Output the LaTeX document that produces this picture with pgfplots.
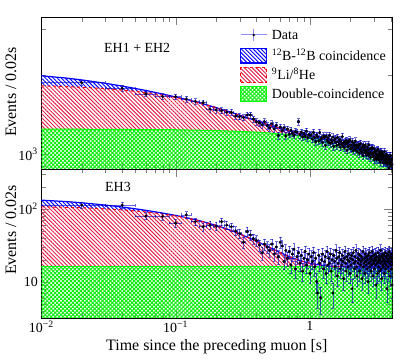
\documentclass[border=0pt]{standalone}
\usepackage{fontspec}
\setmainfont{Liberation Serif}
\usepackage{pgfplots}
\usepackage{pgfplotstable}
\pgfplotsset{compat=1.18}
\usetikzlibrary{patterns,patterns.meta}
\definecolor{hatchred}{RGB}{225,30,70}
\definecolor{hatchgreen}{RGB}{20,235,20}

\pgfplotstableread{
t N
0.02 1875
0.04 1786
0.06 1700
0.08 1662
0.10 1659
0.12 1625
0.14 1593
0.16 1574
0.18 1488
0.20 1478
0.22 1467
0.24 1449
0.26 1446
0.28 1400
0.30 1395
0.32 1380
0.34 1412
0.36 1414
0.38 1364
0.40 1330
0.42 1318
0.44 1296
0.46 1331
0.48 1286
0.50 1262
0.52 1308
0.54 1251
0.56 1290
0.58 1180
0.60 1270
0.62 1229
0.64 1263
0.66 1175
0.68 1248
0.70 1193
0.72 1236
0.74 1204
0.76 1181
0.78 1222
0.80 1215
0.82 1332
0.84 1187
0.86 1214
0.88 1166
0.90 1201
0.92 1173
0.94 1225
0.96 1158
0.98 1190
1.00 1182
1.02 1186
1.04 1143
1.06 1210
1.08 1161
1.10 1117
1.12 1184
1.14 1167
1.16 1124
1.18 1211
1.20 1139
1.22 1154
1.24 1110
1.26 1174
1.28 1160
1.30 1082
1.32 1175
1.34 1130
1.36 1156
1.38 1112
1.40 1182
1.42 1101
1.44 1136
1.46 1110
1.48 1164
1.50 1073
1.52 1134
1.54 1146
1.56 1113
1.58 1082
1.60 1160
1.62 1117
1.64 1092
1.66 1141
1.68 1065
1.70 1125
1.72 1094
1.74 1168
1.76 1076
1.78 1110
1.80 1060
1.82 1119
1.84 1093
1.86 1130
1.88 1037
1.90 1106
1.92 1071
1.94 1116
1.96 1079
1.98 1135
2.00 1051
2.02 1086
2.04 1055
2.06 1118
2.08 1063
2.10 1032
2.12 1099
2.14 1080
2.16 1041
2.18 1123
2.20 1057
2.22 1085
2.24 1027
2.26 1077
2.28 1060
2.30 1092
2.32 1010
2.34 1084
2.36 1039
2.38 1097
2.40 1030
2.42 1057
2.44 1015
2.46 1069
2.48 989
2.50 1084
2.52 1038
2.54 1059
2.56 1012
2.58 1085
2.60 1025
2.62 1038
2.64 994
2.66 1067
2.68 1012
2.70 1041
2.72 992
2.74 1087
2.76 1001
2.78 1048
2.80 1020
2.82 974
2.84 1057
2.86 1003
2.88 1047
2.90 1006
2.92 1061
2.94 979
2.96 1015
2.98 988
3.00 1049
3.02 954
3.04 1025
3.06 1013
3.08 972
3.10 1029
3.12 999
3.14 956
3.16 1030
3.18 982
3.20 1044
3.22 965
3.24 1004
3.26 952
3.28 1014
3.30 980
3.32 1023
3.34 934
3.36 998
3.38 988
3.40 957
3.42 1022
3.44 960
3.46 1006
3.48 966
3.50 928
3.52 993
3.54 982
3.56 938
3.58 1023
3.60 947
3.62 967
3.64 928
3.66 991
3.68 948
3.70 1001
3.72 932
3.74 964
3.76 914
3.78 988
3.80 948
3.82 970
3.84 920
3.86 973
3.88 888
3.90 985
3.92 930
3.94 957
3.96 916
3.98 988
4.00 929
4.02 947
4.04 902
4.06 958
4.08 917
}\topdata

\pgfplotstableread{
t N
0.02 113
0.04 113
0.06 80
0.08 79
0.10 64
0.12 83
0.14 67
0.16 57
0.18 60
0.20 58
0.22 67
0.24 60
0.26 57
0.28 50
0.30 46
0.32 35
0.34 49
0.36 44
0.38 39
0.40 37
0.42 32
0.44 25
0.46 33
0.48 30
0.50 27
0.52 33
0.54 24
0.56 30
0.58 22
0.60 35
0.62 31
0.64 19
0.66 27
0.68 21
0.70 26
0.72 17
0.74 24
0.76 28
0.78 15
0.80 22
0.82 25
0.84 18
0.86 23
0.88 14
0.90 21
0.92 26
0.94 17
0.96 20
0.98 24
1.00 13
1.02 22
1.04 19
1.06 25
1.08 16
1.10 21
1.12 10
1.14 7
1.16 23
1.18 18
1.20 6
1.22 20
1.24 24
1.26 15
1.28 19
1.30 22
1.32 13
1.34 26
1.36 17
1.38 21
1.40 18
1.42 24
1.44 14
1.46 20
1.48 7
1.50 23
1.52 19
1.54 16
1.56 27
1.58 21
1.60 12
1.62 18
1.64 22
1.66 25
1.68 15
1.70 20
1.72 17
1.74 23
1.76 19
1.78 11
1.80 21
1.82 26
1.84 18
1.86 14
1.88 22
1.90 20
1.92 16
1.94 24
1.96 19
1.98 13
2.00 21
2.02 17
2.04 23
2.06 8
2.08 20
2.10 25
2.12 18
2.14 15
2.16 22
2.18 19
2.20 27
2.22 16
2.24 12
2.26 21
2.28 18
2.30 24
2.32 20
2.34 14
2.36 23
2.38 17
2.40 19
2.42 22
2.44 11
2.46 20
2.48 26
2.50 16
2.52 18
2.54 21
2.56 13
2.58 24
2.60 19
2.62 17
2.64 22
2.66 15
2.68 20
2.70 10
2.72 23
2.74 18
2.76 25
2.78 16
2.80 21
2.82 19
2.84 14
2.86 22
2.88 17
2.90 26
2.92 20
2.94 12
2.96 18
2.98 23
3.00 19
3.02 15
3.04 21
3.06 24
3.08 17
3.10 9
3.12 20
3.14 22
3.16 18
3.18 13
3.20 25
3.22 19
3.24 16
3.26 21
3.28 23
3.30 14
3.32 20
3.34 18
3.36 27
3.38 15
3.40 22
3.42 11
3.44 19
3.46 24
3.48 17
3.50 21
3.52 16
3.54 20
3.56 23
3.58 13
3.60 18
3.62 25
3.64 19
3.66 15
3.68 22
3.70 17
3.72 21
3.74 8
3.76 24
3.78 19
3.80 16
3.82 23
3.84 20
3.86 14
3.88 26
3.90 18
3.92 21
3.94 12
3.96 22
3.98 17
4.00 24
4.02 19
4.04 15
4.06 21
4.08 9
}\botdata

\tikzset{
  bluehatch/.style={pattern={Lines[angle=-45,distance=2.8pt,line width=0.95pt]}, pattern color=blue},
  redhatch/.style={pattern={Lines[angle=-45,distance=2.8pt,line width=0.95pt]}, pattern color=hatchred},
  greenhatch/.style={pattern={Hatch[angle=45,distance=2.8pt,line width=1.05pt]}, pattern color=hatchgreen},
}

\begin{document}
\begin{tikzpicture}
% ---------------- top panel -----------------
\begin{axis}[scale only axis, width=351bp, height=151.7bp,
  at={(41.3bp,191bp)}, anchor=south west,
  xmode=log, ymode=log, xmin=0.01, xmax=4.1, ymin=879, ymax=3334,
  xtick={0.01,0.1,1},
  minor xtick={0.02,0.03,0.04,0.05,0.06,0.07,0.08,0.09,0.2,0.3,0.4,0.5,0.6,0.7,0.8,0.9,2,3,4},
  xticklabels={},
  ytick={1000}, yticklabels={10\textsuperscript{3}},
  minor ytick={900,2000,3000},
  tick align=inside, xtick pos=both, ytick pos=both,
  major tick length=8bp, minor tick length=4.5bp,
  tick label style={font=\fontsize{14}{16}\selectfont},
  ylabel={Events / 0.02s},
  ylabel style={at={(axis description cs:-0.0863,0.508)}, anchor=center, font=\fontsize{16}{18}\selectfont},
]
\addplot[draw=none, greenhatch, forget plot] coordinates {
(0.01,1249) (0.1,1241) (0.2,1232) (0.3,1223) (0.4,1215) (0.5,1206) (0.6,1197) (0.7,1189) (0.8,1181) (0.9,1172) (1.0,1164) (1.2,1147) (1.4,1131) (1.6,1115) (1.8,1099) (2.0,1084) (2.5,1045) (3.0,1009) (3.5,973) (4.1,933)
(4.1,850) (0.01,850) (0.01,1249)};
\addplot[draw=none, redhatch, forget plot] coordinates {
(0.01,1826) (0.015,1815) (0.02,1803) (0.03,1781) (0.04,1760) (0.05,1740) (0.06,1721) (0.08,1683) (0.1,1648) (0.12,1616) (0.15,1572) (0.2,1508) (0.25,1455) (0.3,1410) (0.35,1373) (0.4,1342) (0.5,1292) (0.6,1255) (0.7,1228) (0.8,1208) (0.9,1190) (1.0,1176) (1.2,1153) (1.4,1134) (1.6,1116) (2.0,1084) (2.5,1045) (3.0,1009) (3.5,973) (4.1,933)
(3.5,973) (3.0,1009) (2.5,1045) (2.0,1084) (1.8,1099) (1.6,1115) (1.4,1131) (1.2,1147) (1.0,1164) (0.9,1172) (0.8,1181) (0.7,1189) (0.6,1197) (0.5,1206) (0.4,1215) (0.3,1223) (0.2,1232) (0.1,1241) (0.01,1249) (0.01,1826)};
\addplot[draw=none, bluehatch, forget plot] coordinates {
(0.01,1994) (0.015,1957) (0.02,1923) (0.03,1867) (0.04,1822) (0.05,1784) (0.06,1753) (0.08,1699) (0.1,1656) (0.12,1620) (0.15,1574) (0.2,1508)
(0.15,1572) (0.12,1616) (0.1,1648) (0.08,1683) (0.06,1721) (0.05,1740) (0.04,1760) (0.03,1781) (0.02,1803) (0.015,1815) (0.01,1826) (0.01,1994)};
\addplot[green, line width=1pt, forget plot] coordinates {
(0.01,1249) (0.1,1241) (0.2,1232) (0.3,1223) (0.4,1215) (0.5,1206) (0.6,1197) (0.7,1189) (0.8,1181) (0.9,1172) (1.0,1164) (1.2,1147) (1.4,1131) (1.6,1115) (1.8,1099) (2.0,1084) (2.5,1045) (3.0,1009) (3.5,973) (4.1,933)};
\addplot[blue, line width=1.2pt, forget plot] coordinates {
(0.01,1994) (0.015,1957) (0.02,1923) (0.03,1867) (0.04,1822) (0.05,1784) (0.06,1753) (0.08,1699) (0.1,1656) (0.12,1620) (0.15,1574) (0.2,1508) (0.25,1455) (0.3,1410) (0.35,1373) (0.4,1342) (0.5,1292) (0.6,1255) (0.7,1228) (0.8,1208) (0.9,1190) (1.0,1176) (1.2,1153) (1.4,1134) (1.6,1116) (2.0,1084) (2.5,1045) (3.0,1009) (3.5,973) (4.1,933)};
\addplot[red, dashed, line width=1pt, forget plot] coordinates {
(0.01,1826) (0.015,1815) (0.02,1803) (0.03,1781) (0.04,1760) (0.05,1740) (0.06,1721) (0.08,1683) (0.1,1648) (0.12,1616) (0.15,1572) (0.2,1508) (0.25,1455) (0.3,1410) (0.35,1373) (0.4,1342) (0.5,1292) (0.6,1255) (0.7,1228) (0.8,1208) (0.9,1190) (1.0,1176) (1.2,1153) (1.4,1134) (1.6,1116) (2.0,1084) (2.5,1045) (3.0,1009) (3.5,973) (4.1,933)};
\addplot[only marks, mark=*, mark size=1.3pt, mark options={fill=black, draw=black}, forget plot,
  error bars/.cd, y dir=both, y explicit, x dir=both, x fixed=0.01,
  error bar style={blue!75!black, opacity=0.6, line width=0.6pt},
  error mark options={rotate=90, blue!75!black, opacity=0.6, mark size=1.4pt, line width=0.6pt}]
  table[x=t, y=N, y error expr=sqrt(\thisrow{N})] {\topdata};
\end{axis}

% ---------------- bottom panel -----------------
\begin{axis}[scale only axis, width=351bp, height=148.7bp,
  at={(41.3bp,42.3bp)}, anchor=south west,
  xmode=log, ymode=log, xmin=0.01, xmax=4.1, ymin=3.2, ymax=355,
  xtick={0.01,0.1,1},
  minor xtick={0.02,0.03,0.04,0.05,0.06,0.07,0.08,0.09,0.2,0.3,0.4,0.5,0.6,0.7,0.8,0.9,2,3,4},
  xticklabels={10\textsuperscript{−2},10\textsuperscript{−1},1},
  ytick={10,100}, yticklabels={10,10\textsuperscript{2}},
  minor ytick={4,5,6,7,8,9,20,30,40,50,60,70,80,90,200,300},
  tick align=inside, xtick pos=both, ytick pos=both,
  major tick length=8bp, minor tick length=4.5bp,
  tick label style={font=\fontsize{14}{16}\selectfont},
  xlabel={Time since the preceding muon [s]},
  xlabel style={at={(axis description cs:0.5,-0.195)}, anchor=center, font=\fontsize{16}{18}\selectfont},
  ylabel={Events / 0.02s},
  ylabel style={at={(axis description cs:-0.0863,0.59)}, anchor=center, font=\fontsize{16}{18}\selectfont},
]
\addplot[draw=none, greenhatch, forget plot] coordinates {
(0.01,16) (4.1,16) (4.1,3) (0.01,3) (0.01,16)};
\addplot[draw=none, redhatch, forget plot] coordinates {
(0.01,107.4) (0.015,105.6) (0.02,103.9) (0.03,100.5) (0.04,97.3) (0.05,94.2) (0.06,91.2) (0.08,85.6) (0.1,80.4) (0.12,75.6) (0.15,69.0) (0.2,59.6) (0.25,51.9) (0.3,45.5) (0.35,40.3) (0.4,36.0) (0.5,29.6) (0.6,25.2) (0.7,22.2) (0.8,20.2) (0.9,18.9) (1.0,17.9) (1.2,16.9) (1.4,16.4) (1.6,16.2) (2.0,16.0) (4.1,16.0)
(0.01,16) (0.01,107.4)};
\addplot[draw=none, bluehatch, forget plot] coordinates {
(0.01,132.4) (0.015,126.8) (0.02,121.8) (0.03,113.3) (0.04,106.5) (0.05,100.8) (0.06,95.9) (0.08,88.0) (0.1,81.6) (0.12,76.2) (0.15,69.2) (0.2,59.6)
(0.15,69.0) (0.12,75.6) (0.1,80.4) (0.08,85.6) (0.06,91.2) (0.05,94.2) (0.04,97.3) (0.03,100.5) (0.02,103.9) (0.015,105.6) (0.01,107.4) (0.01,132.4)};
\addplot[green, line width=1pt, forget plot] coordinates {(0.01,16) (4.1,16)};
\addplot[blue, line width=1.2pt, forget plot] coordinates {
(0.01,132.4) (0.015,126.8) (0.02,121.8) (0.03,113.3) (0.04,106.5) (0.05,100.8) (0.06,95.9) (0.08,88.0) (0.1,81.6) (0.12,76.2) (0.15,69.2) (0.2,59.6) (0.25,51.9) (0.3,45.5) (0.35,40.3) (0.4,36.0) (0.5,29.6) (0.6,25.2) (0.7,22.2) (0.8,20.2) (0.9,18.9) (1.0,17.9) (1.2,16.9) (1.4,16.4) (1.6,16.2) (2.0,16.0) (4.1,16.0)};
\addplot[red, dashed, line width=1pt, forget plot] coordinates {
(0.01,107.4) (0.015,105.6) (0.02,103.9) (0.03,100.5) (0.04,97.3) (0.05,94.2) (0.06,91.2) (0.08,85.6) (0.1,80.4) (0.12,75.6) (0.15,69.0) (0.2,59.6) (0.25,51.9) (0.3,45.5) (0.35,40.3) (0.4,36.0) (0.5,29.6) (0.6,25.2) (0.7,22.2) (0.8,20.2) (0.9,18.9) (1.0,17.9) (1.2,16.9) (1.4,16.4) (1.6,16.2) (2.0,16.0) (4.1,16.0)};
\addplot[only marks, mark=*, mark size=1.3pt, mark options={fill=black, draw=black}, forget plot,
  error bars/.cd, y dir=both, y explicit, x dir=both, x fixed=0.01,
  error bar style={blue!75!black, opacity=0.6, line width=0.6pt},
  error mark options={rotate=90, blue!75!black, opacity=0.6, mark size=1.4pt, line width=0.6pt}]
  table[x=t, y=N, y error expr=sqrt(\thisrow{N})] {\botdata};
\end{axis}

% ---------------- panel texts and legend -----------------
\node[anchor=west, inner sep=0pt, font=\fontsize{14}{16}\selectfont] at (104bp,312.5bp) {EH1 + EH2};
\node[anchor=west, inner sep=0pt, font=\fontsize{14}{16}\selectfont] at (105bp,173bp) {EH3};

\draw[blue!45, line width=1pt] (240.7bp,325bp) -- (266.7bp,325bp);
\draw[blue!45, line width=1pt] (253.7bp,319bp) -- (253.7bp,331bp);
\fill[black] (253.7bp,325bp) circle (1.4bp);
\fill[bluehatch] (240.7bp,297bp) rectangle (266.7bp,311.6bp);
\draw[blue, line width=1.1pt] (240.7bp,297bp) rectangle (266.7bp,311.6bp);
\fill[redhatch] (240.7bp,277.7bp) rectangle (266.7bp,292.3bp);
\draw[red, dashed, line width=1pt] (240.7bp,277.7bp) rectangle (266.7bp,292.3bp);
\fill[greenhatch] (240.7bp,258.4bp) rectangle (266.7bp,273bp);
\draw[green, line width=1pt] (240.7bp,258.4bp) rectangle (266.7bp,273bp);
\begin{scope}[every node/.style={anchor=base west, inner sep=0pt, font=\fontsize{14}{16}\selectfont}]
\node at (271.7bp,320.5bp) {Data};
\node at (271.7bp,299.6bp) {\textsuperscript{12}B-\textsuperscript{12}B coincidence};
\node at (271.7bp,280.3bp) {\textsuperscript{9}Li/\textsuperscript{8}He};
\node at (271.7bp,261bp) {Double-coincidence};
\end{scope}
\pgfresetboundingbox
\path (0bp,0bp) rectangle (415bp,360bp);
\end{tikzpicture}
\end{document}
